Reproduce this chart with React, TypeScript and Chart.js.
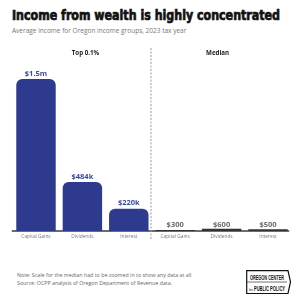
import React, { useEffect, useRef } from "react";
import { Chart, registerables } from "chart.js";

Chart.register(...registerables);

const categories = ["Capital Gains", "Dividends", "Interest", "Capital Gains", "Dividends", "Interest"];
const groupNames = ["Top 0.1%", "Median"];
const topValues = [1500000, 484000, 220000, null, null, null];
const medianValues = [null, null, null, 300, 600, 500];
const topLabels = ["$1.5m", "$484k", "$220k"];
const medianLabels = ["$300", "$600", "$500"];

const BAR_BLUE = "#2d3a8e";
const LABEL_BLUE = "#3a4aa3";

const overlay = {
  id: "overlay",
  beforeDatasetsDraw(chart: any) {
    const { ctx, chartArea } = chart;
    const x = chart.scales.x;
    ctx.save();
    ctx.strokeStyle = "#3c3c3c";
    ctx.lineWidth = 1.5;
    ctx.beginPath();
    ctx.moveTo(chartArea.left - 1, chartArea.bottom);
    ctx.lineTo(chartArea.right - 2, chartArea.bottom);
    ctx.stroke();
    const sep = (x.getPixelForValue(2) + x.getPixelForValue(3)) / 2 - 1;
    ctx.strokeStyle = "#9a9a9a";
    ctx.lineWidth = 1;
    ctx.setLineDash([2, 1.5]);
    ctx.beginPath();
    ctx.moveTo(sep, 8);
    ctx.lineTo(sep, chartArea.bottom + 8);
    ctx.stroke();
    ctx.restore();
  },
  afterDatasetsDraw(chart: any) {
    const { ctx, chartArea } = chart;
    const x = chart.scales.x;
    ctx.save();
    ctx.textAlign = "center";
    ctx.textBaseline = "middle";
    // value labels
    const metaTop = chart.getDatasetMeta(0);
    metaTop.data.forEach((el: any, i: number) => {
      if (topValues[i] == null) return;
      ctx.fillStyle = LABEL_BLUE;
      ctx.font = "bold 7.5px 'Open Sans'";
      ctx.fillText(topLabels[i], el.x, el.y - 5.5);
    });
    const metaMed = chart.getDatasetMeta(1);
    metaMed.data.forEach((el: any, i: number) => {
      if (medianValues[i] == null) return;
      ctx.fillStyle = "#6a6a6a";
      ctx.font = "bold 7.5px 'Open Sans'";
      ctx.fillText(medianLabels[i - 3], el.x, chartArea.bottom - 6.5);
    });
    // category labels
    ctx.fillStyle = "#777";
    ctx.font = "4.8px 'Open Sans'";
    categories.forEach((c, i) => {
      ctx.fillText(c, x.getPixelForValue(i), chartArea.bottom + 5.5);
    });
    // group labels
    ctx.fillStyle = "#222";
    ctx.font = "bold 6.2px 'Open Sans'";
    ctx.fillText(groupNames[0], x.getPixelForValue(1) + 3, 13.5);
    ctx.fillText(groupNames[1], x.getPixelForValue(4) - 4, 13.5);
    ctx.restore();
  },
};

function ChartCanvas() {
  const ref = useRef<HTMLCanvasElement>(null);
  useEffect(() => {
    if (!ref.current) return;
    const chart = new Chart(ref.current, {
      type: "bar",
      data: {
        labels: categories,
        datasets: [
          {
            data: topValues as any,
            yAxisID: "y",
            backgroundColor: BAR_BLUE,
            borderRadius: { topLeft: 6, topRight: 6, bottomLeft: 0, bottomRight: 0 },
            borderSkipped: false,
            grouped: false,
            barPercentage: 0.85,
            categoryPercentage: 1,
          } as any,
          {
            data: medianValues as any,
            yAxisID: "y2",
            backgroundColor: "#333",
            borderRadius: 0,
            grouped: false,
            barPercentage: 0.85,
            categoryPercentage: 1,
          } as any,
        ],
      },
      options: {
        responsive: false,
        animation: false,
        layout: { padding: { top: 8.6, bottom: 19, left: 12.8, right: 8.8 } },
        plugins: { legend: { display: false }, tooltip: { enabled: false } },
        scales: {
          x: { display: false },
          y: { display: false, min: 0, max: 1800000 },
          y2: { display: false, min: 0, max: 50000 },
        },
      },
      plugins: [overlay],
    });
    return () => chart.destroy();
  }, []);
  return (
    <canvas
      ref={ref}
      width={300}
      height={210}
      style={{ position: "absolute", left: 0, top: 40, width: 300, height: 210 }}
    />
  );
}

export default function App() {
  return (
    <div
      style={{
        position: "absolute",
        left: 0,
        top: 0,
        width: 300,
        height: 300,
        background: "#fff",
        overflow: "hidden",
      }}
    >
      <svg width={300} height={40} style={{ position: "absolute", left: 0, top: 0 }}>
        <text
          x={12}
          y={19.5}
          textLength={268}
          lengthAdjust="spacingAndGlyphs"
          fontFamily="'Liberation Sans Narrow', 'DejaVu Sans Condensed', sans-serif"
          fontWeight="bold"
          fontSize={14.5}
          fill="#111"
          stroke="#111"
          strokeWidth={0.7}
        >
          Income from wealth is highly concentrated
        </text>
        <text x={12} y={33} fontFamily="'Open Sans', sans-serif" fontSize={6.5} fill="#777">
          Average income for Oregon income groups, 2023 tax year
        </text>
      </svg>
      <ChartCanvas />
      <div
        style={{
          position: "absolute",
          left: 17,
          top: 271,
          fontFamily: "'Open Sans', sans-serif",
          fontSize: 5.3,
          lineHeight: "8px",
          color: "#666",
          whiteSpace: "nowrap",
        }}
      >
        <div>Note: Scale for the median had to be zoomed in to show any data at all</div>
        <div>Source: OCPP analysis of Oregon Department of Revenue data.</div>
      </div>
      <svg width={46} height={25} style={{ position: "absolute", left: 246, top: 270 }}>
        <polygon points="0.7,0.7 42,0.7 44.5,12 42,23.5 0.7,23.5" fill="#fff" stroke="#111" strokeWidth={1.2} />
        <line x1={0.7} y1={12} x2={41} y2={12} stroke="#111" strokeWidth={0.6} />
        <text
          x={4}
          y={9.5}
          textLength={34}
          lengthAdjust="spacingAndGlyphs"
          fontFamily="'Liberation Sans Narrow', sans-serif"
          fontWeight="bold"
          fontSize={7.5}
          fill="#111"
        >
          OREGON CENTER
        </text>
        <text x={3} y={20.5} fontFamily="'Liberation Sans Narrow', sans-serif" fontSize={3.5} fill="#111">
          for
        </text>
        <text
          x={8}
          y={21}
          textLength={31}
          lengthAdjust="spacingAndGlyphs"
          fontFamily="'Liberation Sans Narrow', sans-serif"
          fontWeight="bold"
          fontSize={7.5}
          fill="#111"
        >
          PUBLIC POLICY
        </text>
      </svg>
    </div>
  );
}
